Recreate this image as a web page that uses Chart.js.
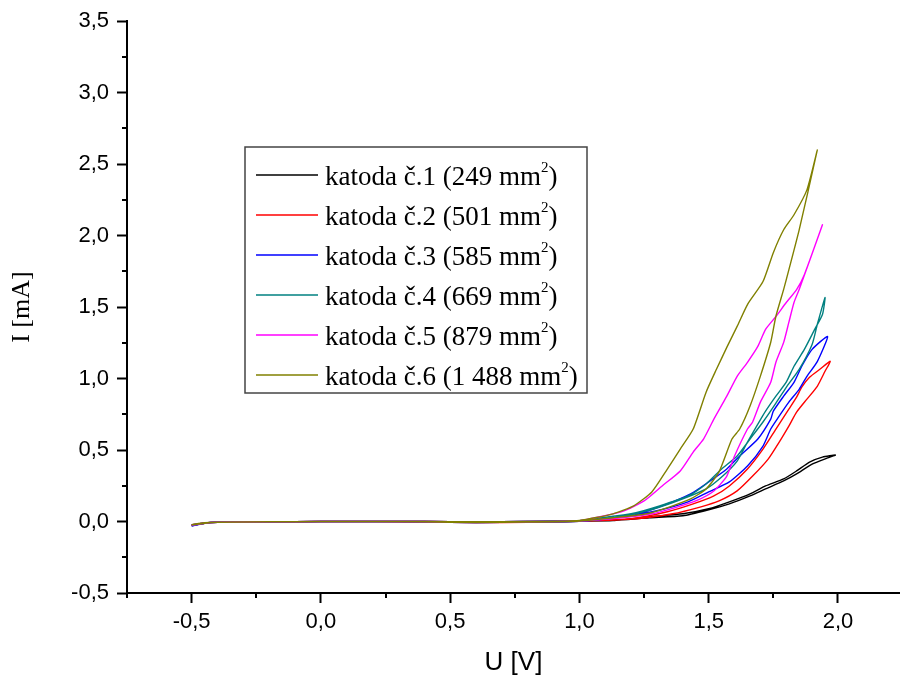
<!DOCTYPE html>
<html lang="cs">
<head>
    <meta charset="UTF-8">
    <title>katody - I(U)</title>
    <script src="https://cdn.jsdelivr.net/npm/chart.js@4"></script>
    <style>
        html, body { margin: 0; padding: 0; background: #ffffff; overflow: hidden; }
        #wrap { width: 900px; height: 684px; }
    </style>
</head>
<body>
    <div id="wrap"><canvas id="myChart" width="900" height="684"></canvas></div>

    <script>
        // legend texts
        const names = [ 'katoda č.1', 'katoda č.2', 'katoda č.3', 'katoda č.4', 'katoda č.5', 'katoda č.6' ];
        const areas = [ '249', '501', '585', '669', '879', '1 488' ];
        const colors = [ '#000000', '#ff0000', '#0000ff', '#008080', '#ff00ff', '#808000' ];

        // axis ticks
        const xTicks = [ -0.75, -0.5, -0.25, 0, 0.25, 0.5, 0.75, 1.0, 1.25, 1.5, 1.75, 2.0 ];
        const yTicks = [ -0.5, -0.25, 0, 0.25, 0.5, 0.75, 1.0, 1.25, 1.5, 1.75, 2.0, 2.25, 2.5, 2.75, 3.0, 3.25, 3.5 ];

        // U [V] / I [mA], one loop per cathode (sweep up, then back)
        const k1U = [ -0.5, -0.45, -0.4, -0.2, 0, 0.2, 0.4, 0.6, 0.8, 1.0, 1.13, 1.27, 1.40, 1.50, 1.58, 1.66, 1.72, 1.79, 1.84, 1.89, 1.94, 1.99,
            1.96, 1.90, 1.84, 1.79, 1.72, 1.66, 1.58, 1.50, 1.40, 1.27, 1.13, 1.0, 0.8, 0.6, 0.4, 0.2, 0, -0.2, -0.4, -0.45, -0.5 ];
        const k1I = [ -0.025, -0.01, -0.004, -0.001, 0, 0.001, 0, -0.002, 0, 0.003, 0.006, 0.033, 0.054, 0.089, 0.137, 0.193, 0.249, 0.298, 0.354, 0.416, 0.451, 0.465,
            0.445, 0.402, 0.333, 0.284, 0.228, 0.179, 0.123, 0.082, 0.040, 0.026, 0.008, 0.002, -0.004, -0.006, -0.002, 0, -0.001, -0.002, -0.006, -0.012, -0.028 ];

        const k2U = [ -0.5, -0.45, -0.4, -0.2, 0, 0.2, 0.4, 0.6, 0.8, 1.0, 1.20, 1.34, 1.44, 1.52, 1.58, 1.65, 1.71, 1.76, 1.81, 1.84, 1.86, 1.89, 1.93, 1.97,
            1.95, 1.92, 1.88, 1.84, 1.81, 1.78, 1.73, 1.67, 1.61, 1.54, 1.47, 1.36, 1.22, 1.0, 0.8, 0.6, 0.4, 0.2, 0, -0.2, -0.4, -0.45, -0.5 ];
        const k2I = [ -0.024, -0.01, -0.004, -0.001, 0, 0.001, 0, -0.003, -0.001, 0.004, 0.019, 0.068, 0.123, 0.179, 0.249, 0.368, 0.507, 0.647, 0.786, 0.870, 0.940, 1.009, 1.065, 1.121,
            1.051, 0.946, 0.856, 0.765, 0.667, 0.577, 0.437, 0.318, 0.214, 0.144, 0.103, 0.054, 0.019, 0.002, -0.005, -0.008, -0.003, 0, -0.001, -0.002, -0.006, -0.012, -0.027 ];

        const k3U = [ -0.5, -0.45, -0.4, -0.2, 0, 0.2, 0.4, 0.6, 0.8, 1.0, 1.07, 1.20, 1.32, 1.43, 1.50, 1.57, 1.62, 1.69, 1.74, 1.75, 1.79, 1.83, 1.86, 1.90, 1.96,
            1.92, 1.88, 1.85, 1.81, 1.77, 1.74, 1.71, 1.65, 1.58, 1.50, 1.42, 1.30, 1.17, 1.0, 0.8, 0.6, 0.4, 0.2, 0, -0.2, -0.4, -0.45, -0.5 ];
        const k3I = [ -0.032, -0.012, -0.005, -0.001, 0, 0.001, 0, -0.002, 0, 0.004, 0.012, 0.040, 0.109, 0.193, 0.277, 0.368, 0.458, 0.577, 0.716, 0.772, 0.877, 0.974, 1.086, 1.204, 1.295,
            1.119, 1.016, 0.925, 0.835, 0.730, 0.647, 0.528, 0.388, 0.277, 0.207, 0.137, 0.075, 0.033, 0.002, -0.004, -0.007, -0.002, 0, -0.001, -0.002, -0.006, -0.013, -0.030 ];

        const k4U = [ -0.5, -0.45, -0.4, -0.2, 0, 0.2, 0.4, 0.6, 0.8, 1.0, 1.08, 1.20, 1.31, 1.42, 1.49, 1.55, 1.61, 1.66, 1.71, 1.76, 1.80, 1.85, 1.90, 1.92, 1.95,
            1.94, 1.91, 1.87, 1.83, 1.80, 1.76, 1.72, 1.69, 1.65, 1.61, 1.55, 1.49, 1.40, 1.29, 1.16, 1.0, 0.8, 0.6, 0.4, 0.2, 0, -0.2, -0.4, -0.45, -0.5 ];
        const k4I = [ -0.024, -0.01, -0.004, -0.001, 0, 0.001, 0, -0.002, 0, 0.005, 0.026, 0.054, 0.110, 0.179, 0.263, 0.367, 0.458, 0.577, 0.696, 0.828, 0.939, 1.065, 1.239, 1.378, 1.567,
            1.448, 1.344, 1.204, 1.086, 0.975, 0.877, 0.772, 0.681, 0.556, 0.423, 0.311, 0.228, 0.158, 0.089, 0.033, 0.003, -0.004, -0.007, -0.002, 0, -0.001, -0.002, -0.006, -0.012, -0.026 ];

        const k5U = [ -0.5, -0.45, -0.4, -0.2, 0, 0.2, 0.4, 0.6, 0.8, 1.0, 1.08, 1.17, 1.25, 1.32, 1.39, 1.44, 1.48, 1.52, 1.57, 1.61, 1.65, 1.69, 1.72, 1.76, 1.80, 1.84, 1.87, 1.94,
            1.85, 1.83, 1.81, 1.79, 1.76, 1.74, 1.70, 1.67, 1.65, 1.60, 1.57, 1.52, 1.45, 1.38, 1.28, 1.16, 1.0, 0.8, 0.6, 0.4, 0.2, 0, -0.2, -0.4, -0.45, -0.5 ];
        const k5I = [ -0.024, -0.01, -0.004, -0.001, 0, 0.001, 0, -0.002, 0, 0.006, 0.033, 0.073, 0.144, 0.249, 0.354, 0.486, 0.577, 0.716, 0.877, 1.016, 1.114, 1.225, 1.344, 1.434, 1.532, 1.623, 1.727, 2.076,
            1.623, 1.532, 1.393, 1.253, 1.114, 0.974, 0.835, 0.696, 0.647, 0.458, 0.318, 0.214, 0.144, 0.103, 0.054, 0.026, 0.003, -0.004, -0.007, -0.002, 0, -0.001, -0.002, -0.006, -0.012, -0.026 ];

        const k6U = [ -0.5, -0.45, -0.4, -0.2, 0, 0.2, 0.4, 0.6, 0.8, 1.0, 1.13, 1.21, 1.28, 1.34, 1.39, 1.44, 1.49, 1.53, 1.57, 1.61, 1.65, 1.71, 1.75, 1.79, 1.83, 1.88, 1.92,
            1.85, 1.81, 1.79, 1.76, 1.74, 1.70, 1.66, 1.62, 1.59, 1.54, 1.49, 1.43, 1.35, 1.26, 1.13, 1.0, 0.8, 0.6, 0.4, 0.2, 0, -0.2, -0.4, -0.45, -0.5 ];
        const k6I = [ -0.022, -0.009, -0.004, -0.001, 0, 0.001, 0, -0.002, 0, 0.008, 0.054, 0.110, 0.207, 0.367, 0.507, 0.647, 0.905, 1.065, 1.218, 1.365, 1.518, 1.679, 1.881, 2.041, 2.146, 2.320, 2.598,
            2.040, 1.760, 1.624, 1.436, 1.254, 1.017, 0.808, 0.647, 0.577, 0.347, 0.228, 0.158, 0.103, 0.054, 0.026, 0.004, -0.004, -0.007, -0.002, 0, -0.001, -0.002, -0.006, -0.012, -0.024 ];

        const seriesU = [ k1U, k2U, k3U, k4U, k5U, k6U ];
        const seriesI = [ k1I, k2I, k3I, k4I, k5I, k6I ];

        const fmt = v => v.toFixed( 1 ).replace( '.', ',' );
        const isMajor = v => Math.abs( v * 2 - Math.round( v * 2 ) ) < 1e-6;

        const datasets = seriesU.map( ( us, i ) => ( {
            label: names[ i ],
            data: us.map( ( u, j ) => ( { x: u, y: seriesI[ i ][ j ] } ) ),
            showLine: true,
            borderColor: colors[ i ],
            backgroundColor: colors[ i ],
            borderWidth: 1.4,
            pointRadius: 0,
            tension: 0.2,
            fill: false,
            order: 6 - i
        } ) );

        const serif = '"Liberation Serif", "Times New Roman", serif';

        // minor ticks (shorter, outside) and the boxed legend with superscripts
        const extrasPlugin = {
            id: 'extras',
            afterDraw( chart ) {
                const ctx = chart.ctx;
                const area = chart.chartArea;
                const xs = chart.scales.x, ys = chart.scales.y;
                ctx.save();
                ctx.strokeStyle = '#000';
                ctx.lineWidth = 2;
                ctx.beginPath();
                xTicks.filter( v => !isMajor( v ) ).forEach( v => {
                    const px = Math.round( xs.getPixelForValue( v ) );
                    ctx.moveTo( px, area.bottom );
                    ctx.lineTo( px, area.bottom + 5 );
                } );
                yTicks.filter( v => !isMajor( v ) ).forEach( v => {
                    const py = Math.round( ys.getPixelForValue( v ) );
                    ctx.moveTo( area.left, py );
                    ctx.lineTo( area.left - 5, py );
                } );
                ctx.stroke();

                // legend box
                const bx = 245, by = 147, bw = 342, bh = 246;
                ctx.fillStyle = '#ffffff';
                ctx.fillRect( bx, by, bw, bh );
                ctx.strokeStyle = '#444';
                ctx.lineWidth = 1.5;
                ctx.strokeRect( bx, by, bw, bh );

                names.forEach( ( name, i ) => {
                    const cy = by + 28 + i * 40;
                    ctx.strokeStyle = colors[ i ];
                    ctx.lineWidth = 1.3;
                    ctx.beginPath();
                    ctx.moveTo( 256, cy );
                    ctx.lineTo( 318, cy );
                    ctx.stroke();

                    ctx.fillStyle = '#000';
                    ctx.textBaseline = 'alphabetic';
                    ctx.font = '27px ' + serif;
                    const main = `${ name } (${ areas[ i ] } mm`;
                    let tx = 325;
                    const base = cy + 10;
                    ctx.fillText( main, tx, base );
                    tx += ctx.measureText( main ).width;
                    ctx.font = '15px ' + serif;
                    ctx.fillText( '2', tx, base - 13 );
                    tx += ctx.measureText( '2' ).width;
                    ctx.font = '27px ' + serif;
                    ctx.fillText( ')', tx, base );
                } );
                ctx.restore();
            }
        };

        const tickFont = { family: '"Liberation Sans", Arial, sans-serif', size: 22 };

        const ctx = document.getElementById( 'myChart' ).getContext( '2d' );
        const myChart = new Chart( ctx, {
            type: 'scatter',
            data: { datasets: datasets },
            plugins: [ extrasPlugin ],
            options: {
                responsive: false,
                animation: false,
                layout: { padding: { top: 20, right: 0, left: 0, bottom: 0 } },
                plugins: { legend: { display: false }, tooltip: { enabled: false } },
                scales: {
                    x: {
                        type: 'linear',
                        min: -0.75,
                        max: 2.24,
                        afterBuildTicks: scale => { scale.ticks = xTicks.map( v => ( { value: v } ) ); },
                        afterFit: scale => { scale.height = 91; },
                        ticks: {
                            autoSkip: false,
                            maxRotation: 0,
                            padding: 6,
                            color: '#000',
                            font: tickFont,
                            callback: v => isMajor( v ) ? fmt( v ) : ''
                        },
                        grid: {
                            drawOnChartArea: false,
                            tickLength: 10,
                            tickWidth: 2,
                            tickColor: c => isMajor( c.tick.value ) ? '#000' : 'rgba(0,0,0,0)'
                        },
                        border: { display: true, color: '#000', width: 2 },
                        title: {
                            display: true,
                            text: 'U [V]',
                            color: '#000',
                            font: { family: '"Liberation Sans", Arial, sans-serif', size: 26 },
                            padding: { top: 0, bottom: 6 }
                        }
                    },
                    y: {
                        type: 'linear',
                        min: -0.5,
                        max: 3.5,
                        afterBuildTicks: scale => { scale.ticks = yTicks.map( v => ( { value: v } ) ); },
                        afterFit: scale => { scale.width = 127; },
                        ticks: {
                            autoSkip: false,
                            padding: 8,
                            color: '#000',
                            font: tickFont,
                            callback: v => isMajor( v ) ? fmt( v ) : ''
                        },
                        grid: {
                            drawOnChartArea: false,
                            tickLength: 10,
                            tickWidth: 2,
                            tickColor: c => isMajor( c.tick.value ) ? '#000' : 'rgba(0,0,0,0)'
                        },
                        border: { display: true, color: '#000', width: 2 },
                        title: {
                            display: true,
                            text: 'I [mA]',
                            color: '#000',
                            font: { family: serif, size: 26 },
                            padding: { top: 7, bottom: 0 }
                        }
                    }
                }
            }
        } );
    </script>
</body>
</html>
